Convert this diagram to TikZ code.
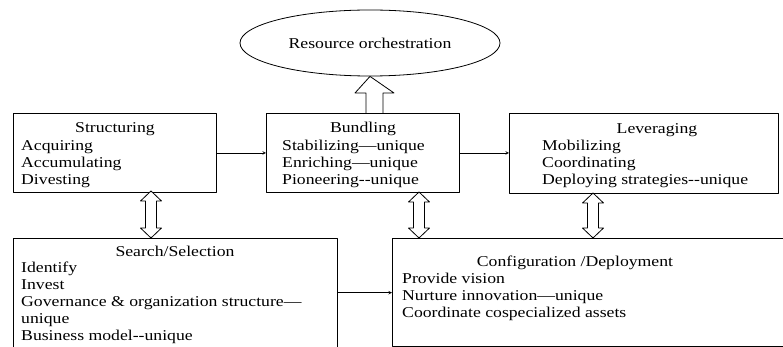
\documentclass[tikz,border=0pt]{standalone}
\usepackage{fontspec}
\setmainfont{Liberation Serif}[FakeStretch=1.18]
\usetikzlibrary{shapes.geometric}
\newcommand{\dd}{-\kern0pt-}
\begin{document}
\begin{tikzpicture}[>=stealth, x=1pt, y=-1pt, line join=round,
	box/.style={draw, line width=0.8pt, anchor=north west, inner sep=0pt},
	txt/.style={font=\fontsize{15}{17}\selectfont, inner sep=0pt},
	lst/.style={txt, align=left, anchor=north west},
	hollow/.style={draw, line width=0.8pt, fill=white}]
	\def\hw{10.5} \def\sw{5.5} \def\hl{10} % double arrows
	\useasboundingbox (0,0) rectangle (783,347);
	\clip (0,0) rectangle (783,347);
	\node[draw, ellipse, line width=0.8pt, minimum width=260, minimum height=66, txt] (orch) at (370,43) {Resource orchestration};
	% upper row
	\node[box, minimum width=203, minimum height=79] (struct) at (13,113) {};
	\node[txt, anchor=base] (structT) at (115,133) {Structuring};
	\node[lst] (structL) at (21,140) {Acquiring\\Accumulating\\Divesting};
	\node[box, minimum width=193, minimum height=79] (bund) at (266,113) {};
	\node[txt, anchor=base] (bundT) at (363,133) {Bundling};
	\node[lst] (bundL) at (282,140) {Stabilizing—unique\\Enriching—unique\\Pioneering\dd unique};
	\node[box, minimum width=269, minimum height=80] (lever) at (509,113) {};
	\node[txt, anchor=base] (leverT) at (657,134) {Leveraging};
	\node[lst] (leverL) at (542,140) {Mobilizing\\Coordinating\\Deploying strategies\dd unique};
	% lower row
	\node[box, minimum width=324, minimum height=115] (search) at (13,238) {};
	\node[txt, anchor=base] (searchT) at (175,256) {Search/Selection};
	\node[lst] (searchL) at (21,262) {Identify\\Invest\\Governance \& organization structure—\\unique\\Business model\dd unique};
	\node[box, line width=1.4pt, minimum width=410, minimum height=108] (config) at (392,238) {};
	\node[txt, anchor=base] (configT) at (575,266) {Configuration /Deployment};
	\node[lst] (configL) at (402,273) {Provide vision\\Nurture innovation—unique\\Coordinate cospecialized assets};
	% thin arrows
	\draw[->, line width=0.6pt] (struct.east) -- (bund.west);
	\draw[->, line width=0.6pt] (bund.east) -- (bund.east -| lever.west);
	\draw[->, line width=0.6pt] (search.east |- config.west) -- (config.west);
	% block arrows
	\draw[hollow] (366,113) -- (366,93) -- (355,93) -- (orch.south) -- (394,93) -- (383,93) -- (383,113);
	\foreach \xa/\ya/\yb in {151/191/238, 419/192/238, 593/193/238}
		\draw[hollow] (\xa,\ya) -- (\xa+\hw,\ya+\hl) -- (\xa+\sw,\ya+\hl) -- (\xa+\sw,\yb-\hl) -- (\xa+\hw,\yb-\hl) -- (\xa,\yb)
		-- (\xa-\hw,\yb-\hl) -- (\xa-\sw,\yb-\hl) -- (\xa-\sw,\ya+\hl) -- (\xa-\hw,\ya+\hl) -- cycle;
\end{tikzpicture}
\end{document}
